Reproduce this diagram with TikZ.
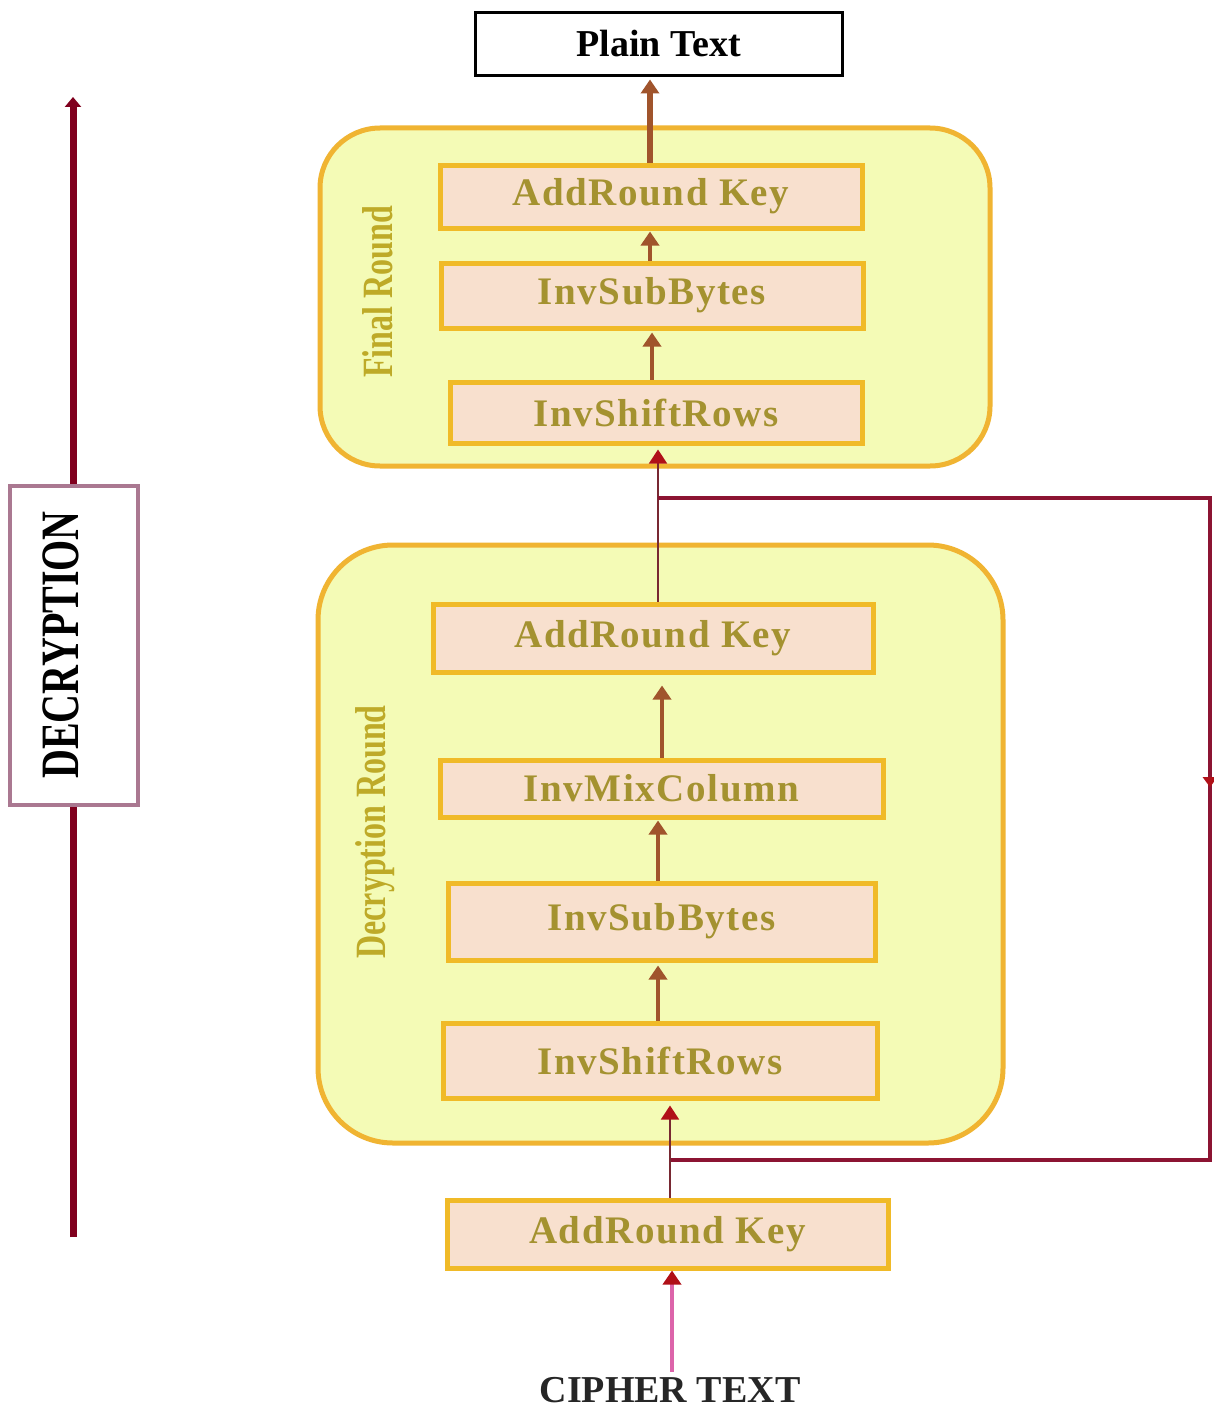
\documentclass[tikz,border=0pt]{standalone}
\usepackage{fontspec}
\setmainfont{Liberation Serif}
\usetikzlibrary{arrows.meta,decorations.markings,calc}
\definecolor{roundfill}{RGB}{244,251,182}
\definecolor{roundedge}{RGB}{240,180,50}
\definecolor{boxfill}{RGB}{248,224,206}
\definecolor{boxedge}{RGB}{240,186,40}
\definecolor{boxtext}{RGB}{164,146,48}
\definecolor{labeltext}{RGB}{190,170,40}
\definecolor{brownarrow}{RGB}{160,84,44}
\definecolor{thinline}{RGB}{120,40,50}
\definecolor{headred}{RGB}{176,16,24}
\definecolor{loopred}{RGB}{140,20,50}
\definecolor{leftred}{RGB}{128,0,30}
\definecolor{mauve}{RGB}{170,120,145}
\definecolor{pinkline}{RGB}{220,100,170}
\tikzset{
  roundbox/.style={draw=roundedge, line width=5pt, fill=roundfill, rounded corners=#1},
  stepbox/.style={draw=boxedge, line width=5pt, fill=boxfill, text=boxtext,
    font=\fontsize{39}{44}\selectfont\bfseries\addfontfeatures{LetterSpace=4}, inner sep=0pt},
  roundlabel/.style={rotate=90, text=labeltext, font=\fontsize{32}{36}\selectfont\bfseries},
  bigarrow/.style={draw=brownarrow, line width=6pt, -{Triangle[length=14pt,width=18pt]}},
  midarrow/.style={draw=brownarrow, line width=4pt, -{Triangle[length=14pt,width=18pt]}},
  thinarrow/.style={draw=thinline, line width=1.6pt, -{Triangle[length=14pt,width=18pt,color=headred]}},
}
\begin{document}
\begin{tikzpicture}[x=1pt,y=-1pt]
\useasboundingbox (0,0) rectangle (1214,1410);
\fill[white] (0,0) rectangle (1214,1410);

% left line and DECRYPTION box
\coordinate (leftTop) at (73,97);
\coordinate (leftBot) at (73,1237);
\draw[draw=leftred, line width=7pt, -{Triangle[length=10pt,width=16pt]}] (leftBot) -- (leftTop);
\node[draw=mauve, line width=4pt, fill=white, minimum width=128pt, minimum height=319pt, inner sep=0pt] (decbox) at (74,645.5) {};
\node[rotate=90, font=\fontsize{40}{44}\selectfont\bfseries] (declabel) at (61,645) {\scalebox{1}[1.35]{DECRYPTION}};

% Plain text
\node[draw=black, line width=3pt, fill=white, minimum width=367pt, minimum height=63pt, inner sep=0pt,
  font=\fontsize{38}{44}\selectfont\bfseries] (plain) at (658.5,44.5) {\raisebox{3pt}{Plain Text}};

% Final round
\node[roundbox=60pt, minimum width=670pt, minimum height=338pt, inner sep=0pt] (finalround) at (655,297) {};
\node[roundlabel] (finallabel) at (378,292) {\scalebox{1}[1.35]{Final Round}};
\node[stepbox, minimum width=422pt, minimum height=63pt] (fAK) at (651,196.5) {AddRound Key};
\node[stepbox, minimum width=422pt, minimum height=65pt] (fISB) at (652,295.5) {InvSubBytes};
\node[stepbox, minimum width=412pt, minimum height=61pt] (fISR) at (656,412.5) {InvShiftRows};

% Decryption round
\node[roundbox=75pt, minimum width=685pt, minimum height=598pt, inner sep=0pt] (decround) at (660.5,844) {};
\node[roundlabel] (declabel2) at (375,832) {\scalebox{1}[1.35]{Decryption Round}};
\node[stepbox, minimum width=440pt, minimum height=68pt] (dAK) at (653,638) {AddRound Key};
\node[stepbox, minimum width=443pt, minimum height=57pt] (dIMC) at (661.5,788.5) {InvMixColumn};
\node[stepbox, minimum width=427pt, minimum height=77pt] (dISB) at (661.5,921.5) {InvSubBytes};
\node[stepbox, minimum width=434pt, minimum height=75pt] (dISR) at (660,1060.5) {InvShiftRows};

% Initial AddRoundKey and cipher text
\node[stepbox, minimum width=441pt, minimum height=68pt] (bAK) at (667.5,1234) {AddRound Key};
\node[font=\fontsize{38}{42}\selectfont\bfseries, text=black!85] (cipher) at (670,1390) {CIPHER TEXT};

% arrows in final round
\draw[bigarrow, shorten >=2pt] ([xshift=-1pt]fAK.north) -- ([xshift=-1pt]fAK.north |- plain.south);
\draw[midarrow, shorten >=1pt] ([xshift=-2pt]fISB.north) -- ([xshift=-2pt]fISB.north |- fAK.south);
\draw[midarrow, shorten >=2pt] ([xshift=-4pt]fISR.north) -- ([xshift=-4pt]fISR.north |- fISB.south);

% arrow from decryption round to final round
\draw[thinarrow, shorten >=4pt] ([xshift=5pt]dAK.north) -- ([xshift=5pt]dAK.north |- fISR.south);

% arrows in decryption round
\draw[midarrow, shorten >=11pt] ([xshift=0.5pt]dIMC.north) -- ([xshift=0.5pt]dIMC.north |- dAK.south);
\draw[midarrow, shorten >=1pt] ([xshift=-3.5pt]dISB.north) -- ([xshift=-3.5pt]dISB.north |- dIMC.south);
\draw[midarrow, shorten >=3pt] ([xshift=-2pt]dISR.north) -- ([xshift=-2pt]dISR.north |- dISB.south);

% arrow from initial AddRoundKey
\draw[thinarrow, shorten >=5pt] ([xshift=2.5pt]bAK.north) -- ([xshift=2.5pt]bAK.north |- dISR.south);

% cipher text arrow
\draw[draw=pinkline, line width=4pt, -{Triangle[length=14pt,width=18pt,color=headred]}, shorten <=2pt]
  ([xshift=2pt]cipher.north) -- ([xshift=2pt]cipher.north |- bAK.south);

% loop back
\coordinate (loopA) at ($(dAK.north)+(5,-104)$);
\coordinate (loopB) at ($(bAK.north)+(3,-38)$);
\draw[draw=loopred, line width=4pt,
  postaction={decorate, decoration={markings,
    mark=at position 0.48 with {\arrow{Triangle[length=10pt,width=14pt,color=headred]}}}}]
  (loopA) -- ++(552,0) |- (loopB);
\end{tikzpicture}
\end{document}
